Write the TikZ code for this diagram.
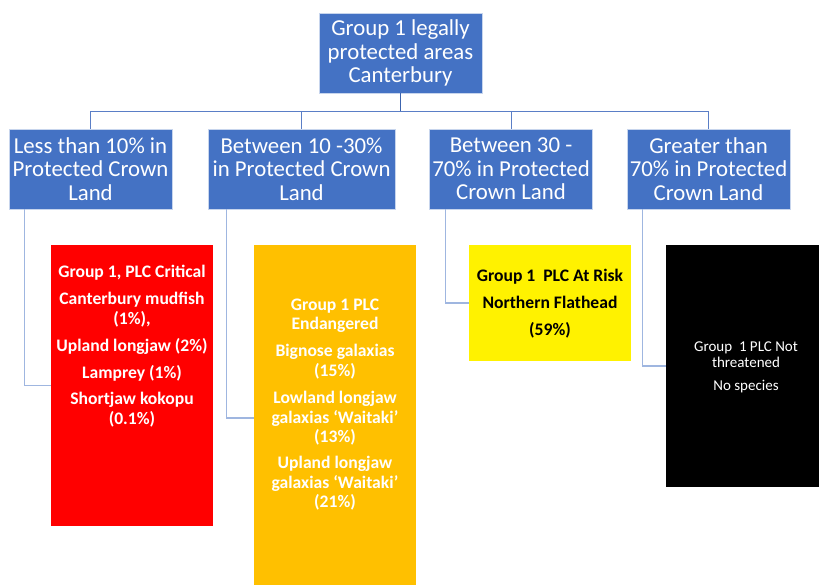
\documentclass[tikz,border=0pt]{standalone}
\usepackage{fontspec}
\setmainfont{Carlito}
\definecolor{ofblue}{HTML}{4472C4}
\definecolor{trunkblue}{HTML}{3C64AE}
\definecolor{hubblue}{HTML}{5A7EC6}
\definecolor{linkblue}{HTML}{9FB6E0}
\definecolor{ofamber}{HTML}{FFC000}
\begin{document}
\begin{tikzpicture}[x=1pt,y=-1pt,
  catbox/.style={rectangle, fill=ofblue, draw=white!70!ofblue, line width=0.6pt,
    text=white, align=center, inner sep=0pt, minimum height=80pt,
    font=\fontsize{22.8}{23.6}\selectfont},
  plcbox/.style={rectangle, inner sep=0pt, draw=none},
  plctext/.style={align=center, inner sep=0pt,
    font=\bfseries\fontsize{17.6}{19.6}\selectfont},
  trunk/.style={draw=trunkblue, line width=1.6pt},
  hubline/.style={draw=hubblue, line width=1pt},
  branch/.style={draw=linkblue, line width=1.4pt},
]
\useasboundingbox (0,0) rectangle (819,585);
\clip (0,0) rectangle (819,585);

% root and the four protection classes
\node[catbox, minimum width=163pt] (top) at (400.5,53) {Group 1 legally\\protected areas\\Canterbury};
\node[catbox, minimum width=163pt] (c1) at (90.5,169) {Less than 10\% in\\Protected Crown\\Land};
\node[catbox, minimum width=187pt] (c2) at (301.5,169) {Between 10 -30\%\\in Protected Crown\\Land};
\node[catbox, minimum width=163pt] (c3) at (511,169) {Between 30 -\\70\% in Protected\\Crown Land};
\node[catbox, minimum width=163pt] (c4) at (708.5,169) {Greater than\\70\% in Protected\\Crown Land};

% threat-status panels
\node[plcbox, fill=red, minimum width=162pt, minimum height=281pt] (crit) at (132,385.5) {};
\node[plcbox, fill=ofamber, minimum width=162pt, minimum height=346pt] (endg) at (335,418) {};
\node[plcbox, fill=yellow, minimum width=162pt, minimum height=116pt] (risk) at (550,303) {};
\node[plcbox, fill=black, minimum width=160pt, minimum height=242pt] (notthr) at (746,366) {};

\node[plctext, text=white, anchor=north] (crittext) at ([yshift=-20pt]crit.north)
  {Group 1, PLC Critical\\[8pt]Canterbury mudfish\\(1\%),\\[7.5pt]Upland longjaw (2\%)\\[7.5pt]Lamprey (1\%)\\[6.5pt]Shortjaw kokopu\\(0.1\%)};
\node[plctext, text=white, anchor=north] (endgtext) at ([yshift=-53.5pt]endg.north)
  {Group 1 PLC\\Endangered\\[7.5pt]Bignose galaxias\\(15\%)\\[7.5pt]Lowland longjaw\\galaxias ‘Waitaki’\\(13\%)\\[6.5pt]Upland longjaw\\galaxias ‘Waitaki’\\(21\%)};
\node[plctext, text=black] (risktext) at ([yshift=-1pt]risk.center)
  {Group 1\ \ PLC At Risk\\[7.5pt]Northern Flathead\\[7.5pt](59\%)};
\node[align=center, inner sep=0pt, text=white, font=\fontsize{15}{16.2}\selectfont] (notthrtext) at ([yshift=-1.5pt]notthr.center)
  {Group\ \ 1 PLC Not\\threatened\\[6.5pt]No species};

% connectors: root to the four classes
\draw[trunk] (top.south) -- ++(0,18) coordinate (hub);
\draw[hubline] (hub) -| (c1.north);
\draw[hubline] (hub) -| (c2.north);
\draw[hubline] (hub) -| (c3.north);
\draw[hubline] (hub) -| (c4.north);
% connectors: each class to its threat-status panel
\draw[branch] (c1.south west) ++(16,0) |- (crit.west);
\draw[branch] (c2.south west) ++(19,0) |- (endg.west);
\draw[branch] (c3.south west) ++(16,0) |- (risk.west);
\draw[branch] (c4.south west) ++(16,0) |- (notthr.west);
\end{tikzpicture}
\end{document}
